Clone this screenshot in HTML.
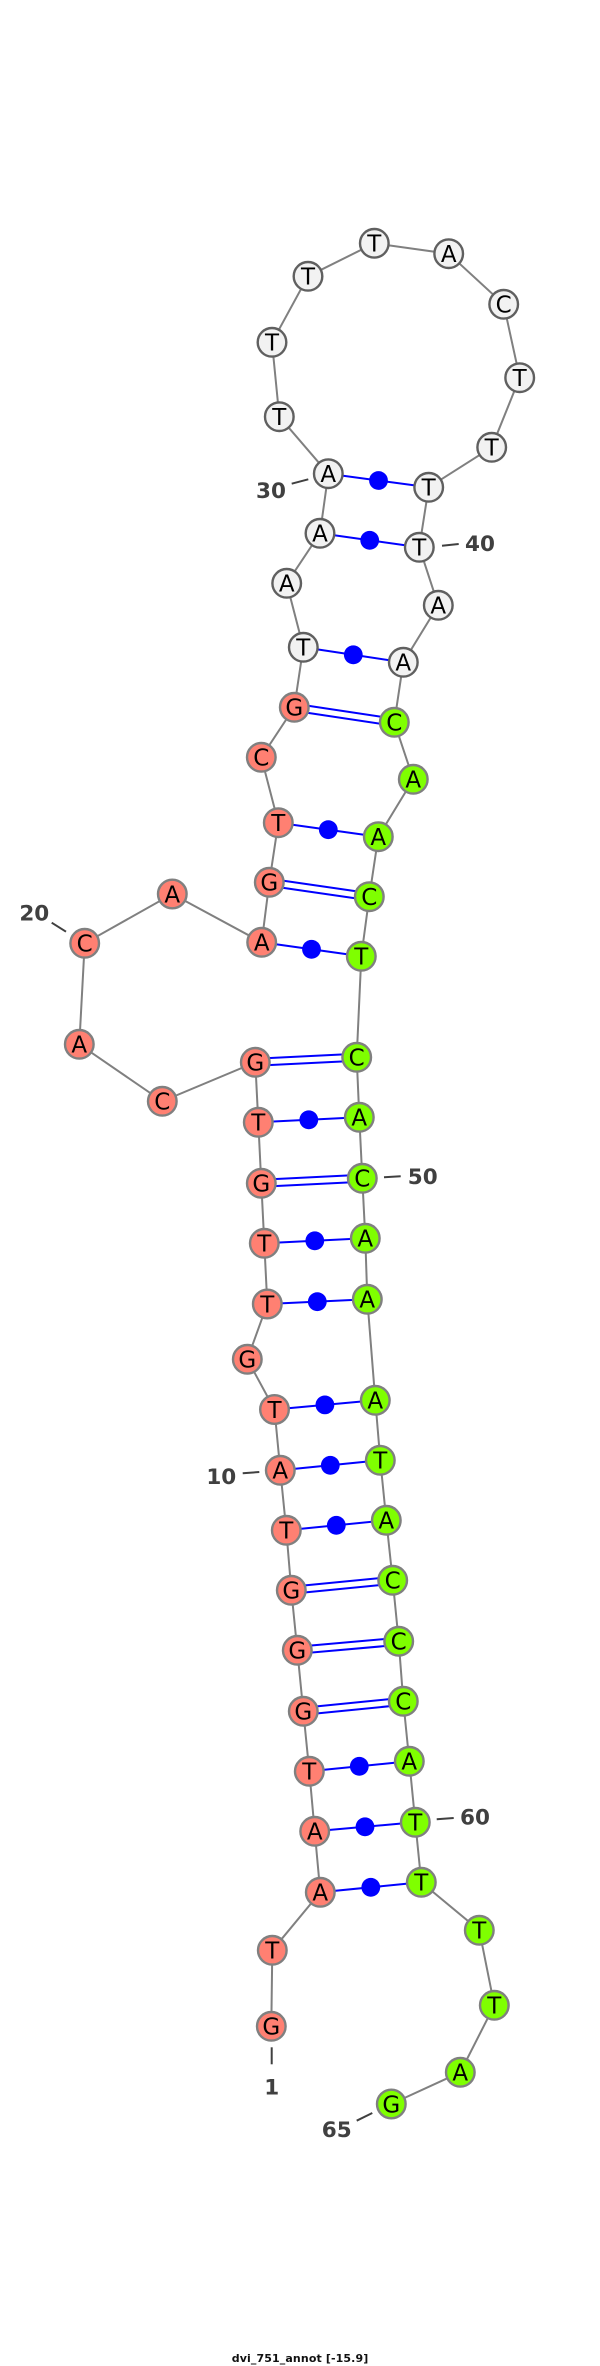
<!DOCTYPE html>
<html><head><meta charset="utf-8"><title>dvi_751_annot</title>
<style>
html,body{margin:0;padding:0;background:#fff}
svg{display:block}
.b{stroke:#808080;stroke-width:2;fill:none}
.p{stroke:#0000ff;stroke-width:2;fill:none}
.d{fill:#0000ff;stroke:none}
.t{stroke:#404040;stroke-width:2;fill:none}
.s circle{fill:#ff8072;stroke:#808080;stroke-width:2.4}
.g circle{fill:#7fff00;stroke:#808080;stroke-width:2.4}
.w circle{fill:#f2f2f2;stroke:#606060;stroke-width:2.4}
.n text{font-family:"DejaVu Sans",sans-serif;font-size:23px;fill:#000;text-anchor:middle}
.l{font-family:"DejaVu Sans",sans-serif;font-weight:bold;font-size:21.5px;fill:#404040;text-anchor:middle}
.c{font-family:"DejaVu Sans",sans-serif;font-weight:bold;font-size:11px;fill:#111;text-anchor:middle}
</style></head><body>
<svg xmlns="http://www.w3.org/2000/svg" width="600" height="2366" viewBox="0 0 600 2366">
<rect width="600" height="2366" fill="#fff"/>
<polyline class="b" points="271.3,2026.3 272.3,1950.3 320.3,1892.3 314.7,1831.3 309.3,1771.3 303.3,1711.3 297.3,1650.3 291.3,1590.3 286.3,1530.3 280.3,1470.3 274.5,1409.5 247.3,1359.3 267.3,1304 264.3,1243.3 261.3,1183.3 258.3,1122.3 255.3,1062.3 162.3,1101.3 79.3,1044.3 84.7,943.3 172.3,894 261.7,942.3 269.3,882.3 278.3,822.7 261.3,757.3 294.3,707.3 303.3,647.3 286.7,583.3 320,533.3 328.3,473.7 279.3,416.7 272,342.3 308,276.3 374.3,243.3 448.7,253.7 503.7,304.3 519.7,377.7 491.7,447.3 428.7,487.3 419.3,547.3 438.3,605.3 403.3,662.3 394.3,722.3 413.3,779.3 378.3,836.7 369.3,896.7 361.3,956.3 356.7,1057.3 359.3,1117.3 362.3,1178.3 365.3,1238.3 367.3,1299.3 375.3,1400.3 380.3,1460.3 386.3,1520.3 392.7,1580.3 398.7,1641.3 403.3,1701.3 409.3,1761.3 415.3,1822.3 421.3,1882.3 479.3,1930.3 494.3,2005.3 460.3,2072.3 391.3,2104"/>
<line class="p" x1="320.3" y1="1892.3" x2="421.3" y2="1882.3"/>
<line class="p" x1="314.7" y1="1831.3" x2="415.3" y2="1822.3"/>
<line class="p" x1="309.3" y1="1771.3" x2="409.3" y2="1761.3"/>
<line class="p" x1="286.3" y1="1530.3" x2="386.3" y2="1520.3"/>
<line class="p" x1="280.3" y1="1470.3" x2="380.3" y2="1460.3"/>
<line class="p" x1="274.5" y1="1409.5" x2="375.3" y2="1400.3"/>
<line class="p" x1="267.3" y1="1304" x2="367.3" y2="1299.3"/>
<line class="p" x1="264.3" y1="1243.3" x2="365.3" y2="1238.3"/>
<line class="p" x1="258.3" y1="1122.3" x2="359.3" y2="1117.3"/>
<line class="p" x1="261.7" y1="942.3" x2="361.3" y2="956.3"/>
<line class="p" x1="278.3" y1="822.7" x2="378.3" y2="836.7"/>
<line class="p" x1="303.3" y1="647.3" x2="403.3" y2="662.3"/>
<line class="p" x1="320" y1="533.3" x2="419.3" y2="547.3"/>
<line class="p" x1="328.3" y1="473.7" x2="428.7" y2="487.3"/>
<line class="p" x1="303.65" y1="1714.8" x2="403.65" y2="1704.8"/><line class="p" x1="302.95" y1="1707.8" x2="402.95" y2="1697.8"/>
<line class="p" x1="297.6" y1="1653.8" x2="399" y2="1644.8"/><line class="p" x1="297" y1="1646.8" x2="398.4" y2="1637.8"/>
<line class="p" x1="291.65" y1="1593.8" x2="393.05" y2="1583.8"/><line class="p" x1="290.95" y1="1586.8" x2="392.35" y2="1576.8"/>
<line class="p" x1="261.5" y1="1186.8" x2="362.5" y2="1181.8"/><line class="p" x1="261.1" y1="1179.8" x2="362.1" y2="1174.8"/>
<line class="p" x1="255.5" y1="1065.8" x2="356.9" y2="1060.8"/><line class="p" x1="255.1" y1="1058.8" x2="356.5" y2="1053.8"/>
<line class="p" x1="268.8" y1="885.8" x2="368.8" y2="900.2"/><line class="p" x1="269.8" y1="878.8" x2="369.8" y2="893.2"/>
<line class="p" x1="293.8" y1="710.8" x2="393.8" y2="725.8"/><line class="p" x1="294.8" y1="703.8" x2="394.8" y2="718.8"/>
<circle class="d" cx="370.8" cy="1887.3" r="9.4"/>
<circle class="d" cx="365" cy="1826.8" r="9.4"/>
<circle class="d" cx="359.3" cy="1766.3" r="9.4"/>
<circle class="d" cx="336.3" cy="1525.3" r="9.4"/>
<circle class="d" cx="330.3" cy="1465.3" r="9.4"/>
<circle class="d" cx="324.9" cy="1404.9" r="9.4"/>
<circle class="d" cx="317.3" cy="1301.7" r="9.4"/>
<circle class="d" cx="314.8" cy="1240.8" r="9.4"/>
<circle class="d" cx="308.8" cy="1119.8" r="9.4"/>
<circle class="d" cx="311.5" cy="949.3" r="9.4"/>
<circle class="d" cx="328.3" cy="829.7" r="9.4"/>
<circle class="d" cx="353.3" cy="654.8" r="9.4"/>
<circle class="d" cx="369.7" cy="540.3" r="9.4"/>
<circle class="d" cx="378.5" cy="480.5" r="9.4"/>
<g class="n s">
<circle cx="271.3" cy="2026.3" r="14.3"/><text x="271.3" y="2034.7">G</text>
<circle cx="272.3" cy="1950.3" r="14.3"/><text x="272.3" y="1958.7">T</text>
<circle cx="320.3" cy="1892.3" r="14.3"/><text x="320.3" y="1900.7">A</text>
<circle cx="314.7" cy="1831.3" r="14.3"/><text x="314.7" y="1839.7">A</text>
<circle cx="309.3" cy="1771.3" r="14.3"/><text x="309.3" y="1779.7">T</text>
<circle cx="303.3" cy="1711.3" r="14.3"/><text x="303.3" y="1719.7">G</text>
<circle cx="297.3" cy="1650.3" r="14.3"/><text x="297.3" y="1658.7">G</text>
<circle cx="291.3" cy="1590.3" r="14.3"/><text x="291.3" y="1598.7">G</text>
<circle cx="286.3" cy="1530.3" r="14.3"/><text x="286.3" y="1538.7">T</text>
<circle cx="280.3" cy="1470.3" r="14.3"/><text x="280.3" y="1478.7">A</text>
<circle cx="274.5" cy="1409.5" r="14.3"/><text x="274.5" y="1417.9">T</text>
<circle cx="247.3" cy="1359.3" r="14.3"/><text x="247.3" y="1367.7">G</text>
<circle cx="267.3" cy="1304" r="14.3"/><text x="267.3" y="1312.4">T</text>
<circle cx="264.3" cy="1243.3" r="14.3"/><text x="264.3" y="1251.7">T</text>
<circle cx="261.3" cy="1183.3" r="14.3"/><text x="261.3" y="1191.7">G</text>
<circle cx="258.3" cy="1122.3" r="14.3"/><text x="258.3" y="1130.7">T</text>
<circle cx="255.3" cy="1062.3" r="14.3"/><text x="255.3" y="1070.7">G</text>
<circle cx="162.3" cy="1101.3" r="14.3"/><text x="162.3" y="1109.7">C</text>
<circle cx="79.3" cy="1044.3" r="14.3"/><text x="79.3" y="1052.7">A</text>
<circle cx="84.7" cy="943.3" r="14.3"/><text x="84.7" y="951.7">C</text>
<circle cx="172.3" cy="894" r="14.3"/><text x="172.3" y="902.4">A</text>
<circle cx="261.7" cy="942.3" r="14.3"/><text x="261.7" y="950.7">A</text>
<circle cx="269.3" cy="882.3" r="14.3"/><text x="269.3" y="890.7">G</text>
<circle cx="278.3" cy="822.7" r="14.3"/><text x="278.3" y="831.1">T</text>
<circle cx="261.3" cy="757.3" r="14.3"/><text x="261.3" y="765.7">C</text>
<circle cx="294.3" cy="707.3" r="14.3"/><text x="294.3" y="715.7">G</text>
</g>
<g class="n w">
<circle cx="303.3" cy="647.3" r="14.3"/><text x="303.3" y="655.7">T</text>
<circle cx="286.7" cy="583.3" r="14.3"/><text x="286.7" y="591.7">A</text>
<circle cx="320" cy="533.3" r="14.3"/><text x="320" y="541.7">A</text>
<circle cx="328.3" cy="473.7" r="14.3"/><text x="328.3" y="482.1">A</text>
<circle cx="279.3" cy="416.7" r="14.3"/><text x="279.3" y="425.1">T</text>
<circle cx="272" cy="342.3" r="14.3"/><text x="272" y="350.7">T</text>
<circle cx="308" cy="276.3" r="14.3"/><text x="308" y="284.7">T</text>
<circle cx="374.3" cy="243.3" r="14.3"/><text x="374.3" y="251.7">T</text>
<circle cx="448.7" cy="253.7" r="14.3"/><text x="448.7" y="262.1">A</text>
<circle cx="503.7" cy="304.3" r="14.3"/><text x="503.7" y="312.7">C</text>
<circle cx="519.7" cy="377.7" r="14.3"/><text x="519.7" y="386.1">T</text>
<circle cx="491.7" cy="447.3" r="14.3"/><text x="491.7" y="455.7">T</text>
<circle cx="428.7" cy="487.3" r="14.3"/><text x="428.7" y="495.7">T</text>
<circle cx="419.3" cy="547.3" r="14.3"/><text x="419.3" y="555.7">T</text>
<circle cx="438.3" cy="605.3" r="14.3"/><text x="438.3" y="613.7">A</text>
<circle cx="403.3" cy="662.3" r="14.3"/><text x="403.3" y="670.7">A</text>
</g>
<g class="n g">
<circle cx="394.3" cy="722.3" r="14.3"/><text x="394.3" y="730.7">C</text>
<circle cx="413.3" cy="779.3" r="14.3"/><text x="413.3" y="787.7">A</text>
<circle cx="378.3" cy="836.7" r="14.3"/><text x="378.3" y="845.1">A</text>
<circle cx="369.3" cy="896.7" r="14.3"/><text x="369.3" y="905.1">C</text>
<circle cx="361.3" cy="956.3" r="14.3"/><text x="361.3" y="964.7">T</text>
<circle cx="356.7" cy="1057.3" r="14.3"/><text x="356.7" y="1065.7">C</text>
<circle cx="359.3" cy="1117.3" r="14.3"/><text x="359.3" y="1125.7">A</text>
<circle cx="362.3" cy="1178.3" r="14.3"/><text x="362.3" y="1186.7">C</text>
<circle cx="365.3" cy="1238.3" r="14.3"/><text x="365.3" y="1246.7">A</text>
<circle cx="367.3" cy="1299.3" r="14.3"/><text x="367.3" y="1307.7">A</text>
<circle cx="375.3" cy="1400.3" r="14.3"/><text x="375.3" y="1408.7">A</text>
<circle cx="380.3" cy="1460.3" r="14.3"/><text x="380.3" y="1468.7">T</text>
<circle cx="386.3" cy="1520.3" r="14.3"/><text x="386.3" y="1528.7">A</text>
<circle cx="392.7" cy="1580.3" r="14.3"/><text x="392.7" y="1588.7">C</text>
<circle cx="398.7" cy="1641.3" r="14.3"/><text x="398.7" y="1649.7">C</text>
<circle cx="403.3" cy="1701.3" r="14.3"/><text x="403.3" y="1709.7">C</text>
<circle cx="409.3" cy="1761.3" r="14.3"/><text x="409.3" y="1769.7">A</text>
<circle cx="415.3" cy="1822.3" r="14.3"/><text x="415.3" y="1830.7">T</text>
<circle cx="421.3" cy="1882.3" r="14.3"/><text x="421.3" y="1890.7">T</text>
<circle cx="479.3" cy="1930.3" r="14.3"/><text x="479.3" y="1938.7">T</text>
<circle cx="494.3" cy="2005.3" r="14.3"/><text x="494.3" y="2013.7">T</text>
<circle cx="460.3" cy="2072.3" r="14.3"/><text x="460.3" y="2080.7">A</text>
<circle cx="391.3" cy="2104" r="14.3"/><text x="391.3" y="2112.4">G</text>
</g>
<line class="t" x1="291.7" y1="483.7" x2="308.3" y2="479.3"/>
<line class="t" x1="51.7" y1="922.7" x2="66" y2="931.7"/>
<line class="t" x1="442" y1="545.7" x2="458.7" y2="544"/>
<line class="t" x1="384" y1="1177.3" x2="400.7" y2="1176.3"/>
<line class="t" x1="242.7" y1="1473.3" x2="259.3" y2="1472"/>
<line class="t" x1="436.7" y1="1819.3" x2="453.7" y2="1818"/>
<line class="t" x1="271.7" y1="2047.3" x2="271.7" y2="2064.3"/>
<line class="t" x1="356.7" y1="2120.7" x2="372.3" y2="2113"/>
<text class="l" x="271" y="497.8">30</text>
<text class="l" x="34.3" y="920.5">20</text>
<text class="l" x="480" y="551.1">40</text>
<text class="l" x="422.7" y="1184.1">50</text>
<text class="l" x="221.3" y="1484.1">10</text>
<text class="l" x="475" y="1824.5">60</text>
<text class="l" x="271.7" y="2094.5">1</text>
<text class="l" x="336.7" y="2137.1">65</text>
<text class="c" x="300" y="2362" textLength="136.5" lengthAdjust="spacing">dvi_751_annot [-15.9]</text>
</svg>
</body></html>
